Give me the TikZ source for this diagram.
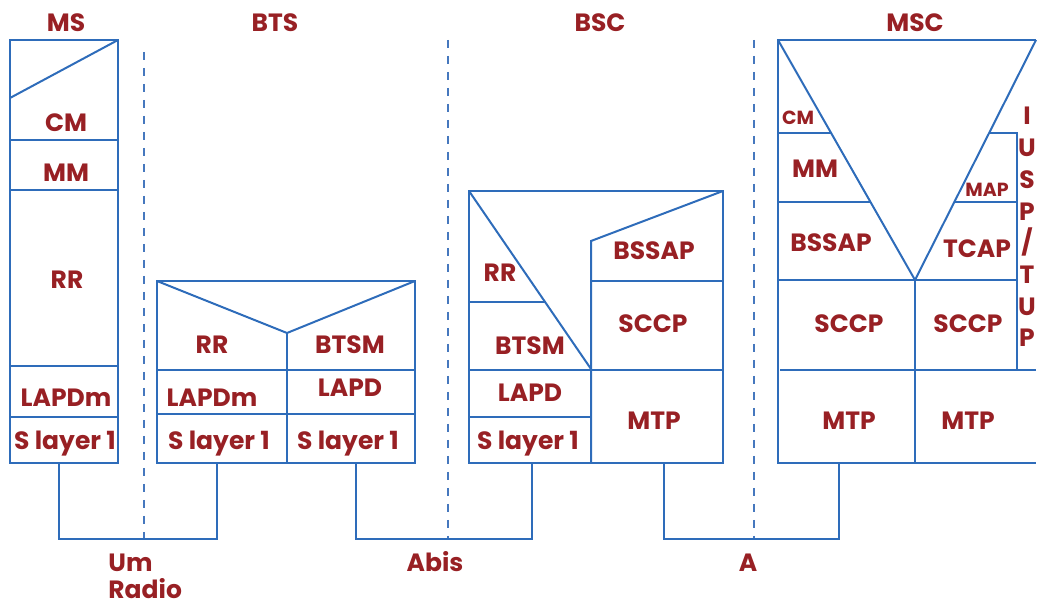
\documentclass[tikz,border=0pt]{standalone}
\usepackage{fontspec}
\setmainfont{Poppins}
\usepackage{tikz}
\usetikzlibrary{calc}
\definecolor{stackblue}{RGB}{46, 108, 186}
\definecolor{ifaceblue}{RGB}{70, 120, 190}
\definecolor{layerred}{RGB}{152, 32, 36}

\tikzset{
  stack/.style={stackblue, line width=1pt},
  iface/.style={ifaceblue, line width=0.75pt, dash pattern=on 4pt off 4pt},
  layer/.style={text=layerred, anchor=base, inner sep=0pt,
                font=\fontsize{12.5}{14}\selectfont\bfseries},
  small layer/.style={layer, font=\fontsize{9.5}{11}\selectfont\bfseries},
  iface label/.style={layer}
}

\begin{document}
\begin{tikzpicture}[x=0.5pt, y=-0.5pt]
    \useasboundingbox (0,0) rectangle (1038,608);

    % Titles
    \foreach \x/\n/\t in {66/ms/MS, 275/bts/BTS, 600/bsc/BSC, 915/msc/MSC}
        \node[layer] (title-\n) at (\x, 32) {\t};

    % Interface boundaries
    \foreach \x/\y in {144/52, 448/40, 754/40}
        \draw[iface] (\x, \y) -- (\x, 539);

    % MS stack
    \draw[stack] (10, 40) rectangle (118, 463);
    \draw[stack] (10, 98) -- (118, 40);
    \foreach \y in {140, 190, 366, 417}
        \draw[stack] (10, \y) -- (118, \y);
    \node[layer] (ms-cm) at (66, 132) {CM};
    \node[layer] (ms-mm) at (66, 182) {MM};
    \node[layer] (ms-rr) at (67, 289) {RR};
    \node[layer] (ms-lapdm) at (66, 407) {LAPDm};
    \node[layer] (ms-l1) at (65, 450) {S layer 1};

    % BTS stack
    \draw[stack] (157, 281) rectangle (415, 463);
    \draw[stack] (157, 281) -- (287, 333) -- (415, 281);
    \draw[stack] (287, 333) -- (287, 463);
    \foreach \y in {370, 414}
        \draw[stack] (157, \y) -- (415, \y);
    \node[layer] (bts-rr) at (212, 354) {RR};
    \node[layer] (bts-btsm) at (350, 354) {BTSM};
    \node[layer] (bts-lapdm) at (212, 407) {LAPDm};
    \node[layer] (bts-lapd) at (350, 397) {LAPD};
    \node[layer] (bts-l1a) at (219, 450) {S layer 1};
    \node[layer] (bts-l1b) at (348, 450) {S layer 1};

    % BSC stack
    \draw[stack] (469, 191) rectangle (723, 463);
    \draw[stack] (469, 191) -- (591, 369);
    \draw[stack] (469, 302) -- (545, 302);
    \draw[stack] (591, 463) -- (591, 241) -- (723, 191);
    \draw[stack] (591, 281) -- (723, 281);
    \draw[stack] (469, 370) -- (723, 370);
    \draw[stack] (469, 417) -- (591, 417);
    \node[layer] (bsc-rr) at (500, 282) {RR};
    \node[layer] (bsc-btsm) at (530, 355) {BTSM};
    \node[layer] (bsc-lapd) at (530, 402) {LAPD};
    \node[layer] (bsc-l1) at (528, 450) {S layer 1};
    \node[layer] (bsc-bssap) at (654, 260) {BSSAP};
    \node[layer] (bsc-sccp) at (653, 333) {SCCP};
    \node[layer] (bsc-mtp) at (654, 430) {MTP};

    % MSC stack
    \draw[stack] (1036, 40) -- (778, 40) -- (778, 463) -- (1036, 463);
    \draw[stack] (778, 40) -- (915, 280) -- (1036, 40);
    \draw[stack] (778, 133) -- (831, 133);
    \draw[stack] (778, 202) -- (870, 202);
    \draw[stack] (989, 133) -- (1017, 133) -- (1017, 370);
    \draw[stack] (954, 202) -- (1017, 202);
    \draw[stack] (778, 280) -- (1017, 280);
    \draw[stack] (915, 280) -- (915, 463);
    \draw[stack] (780, 370) -- (1036, 370);
    \node[small layer] (msc-cm) at (798, 125) {CM};
    \node[layer] (msc-mm) at (815, 178) {MM};
    \node[layer] (msc-bssap) at (831, 252) {BSSAP};
    \node[small layer] (msc-map) at (987, 197) {MAP};
    \node[layer] (msc-tcap) at (977, 258) {TCAP};
    \node[layer] (msc-sccpa) at (849, 333) {SCCP};
    \node[layer] (msc-sccpb) at (968, 333) {SCCP};
    \node[layer] (msc-mtpa) at (849, 430) {MTP};
    \node[layer] (msc-mtpb) at (968, 430) {MTP};
    \foreach \c [count=\i from 0] in {I, U, S, P, /, T, U, P}
        \node[layer] (msc-isup-\i) at (1027, 125 + 31.7*\i) {\c};

    % Physical links
    \coordinate (ms-foot) at (59, 463);
    \coordinate (bts-foot-um) at (217, 463);
    \coordinate (bts-foot-abis) at (356, 463);
    \coordinate (bsc-foot-abis) at (532, 463);
    \coordinate (bsc-foot-a) at (664, 463);
    \coordinate (msc-foot) at (839, 463);
    \draw[stack] (ms-foot) -- ++(0, 76) -| (bts-foot-um);
    \draw[stack] (bts-foot-abis) -- ++(0, 76) -| (bsc-foot-abis);
    \draw[stack] (bsc-foot-a) -- ++(0, 76) -| (msc-foot);

    % Interface names
    \node[iface label, anchor=base west] (um) at (108, 571) {Um};
    \node[iface label, anchor=base west] (radio) at (108, 598) {Radio};
    \node[iface label] (abis) at (435, 571) {Abis};
    \node[iface label] (a) at (748, 571) {A};
\end{tikzpicture}
\end{document}
